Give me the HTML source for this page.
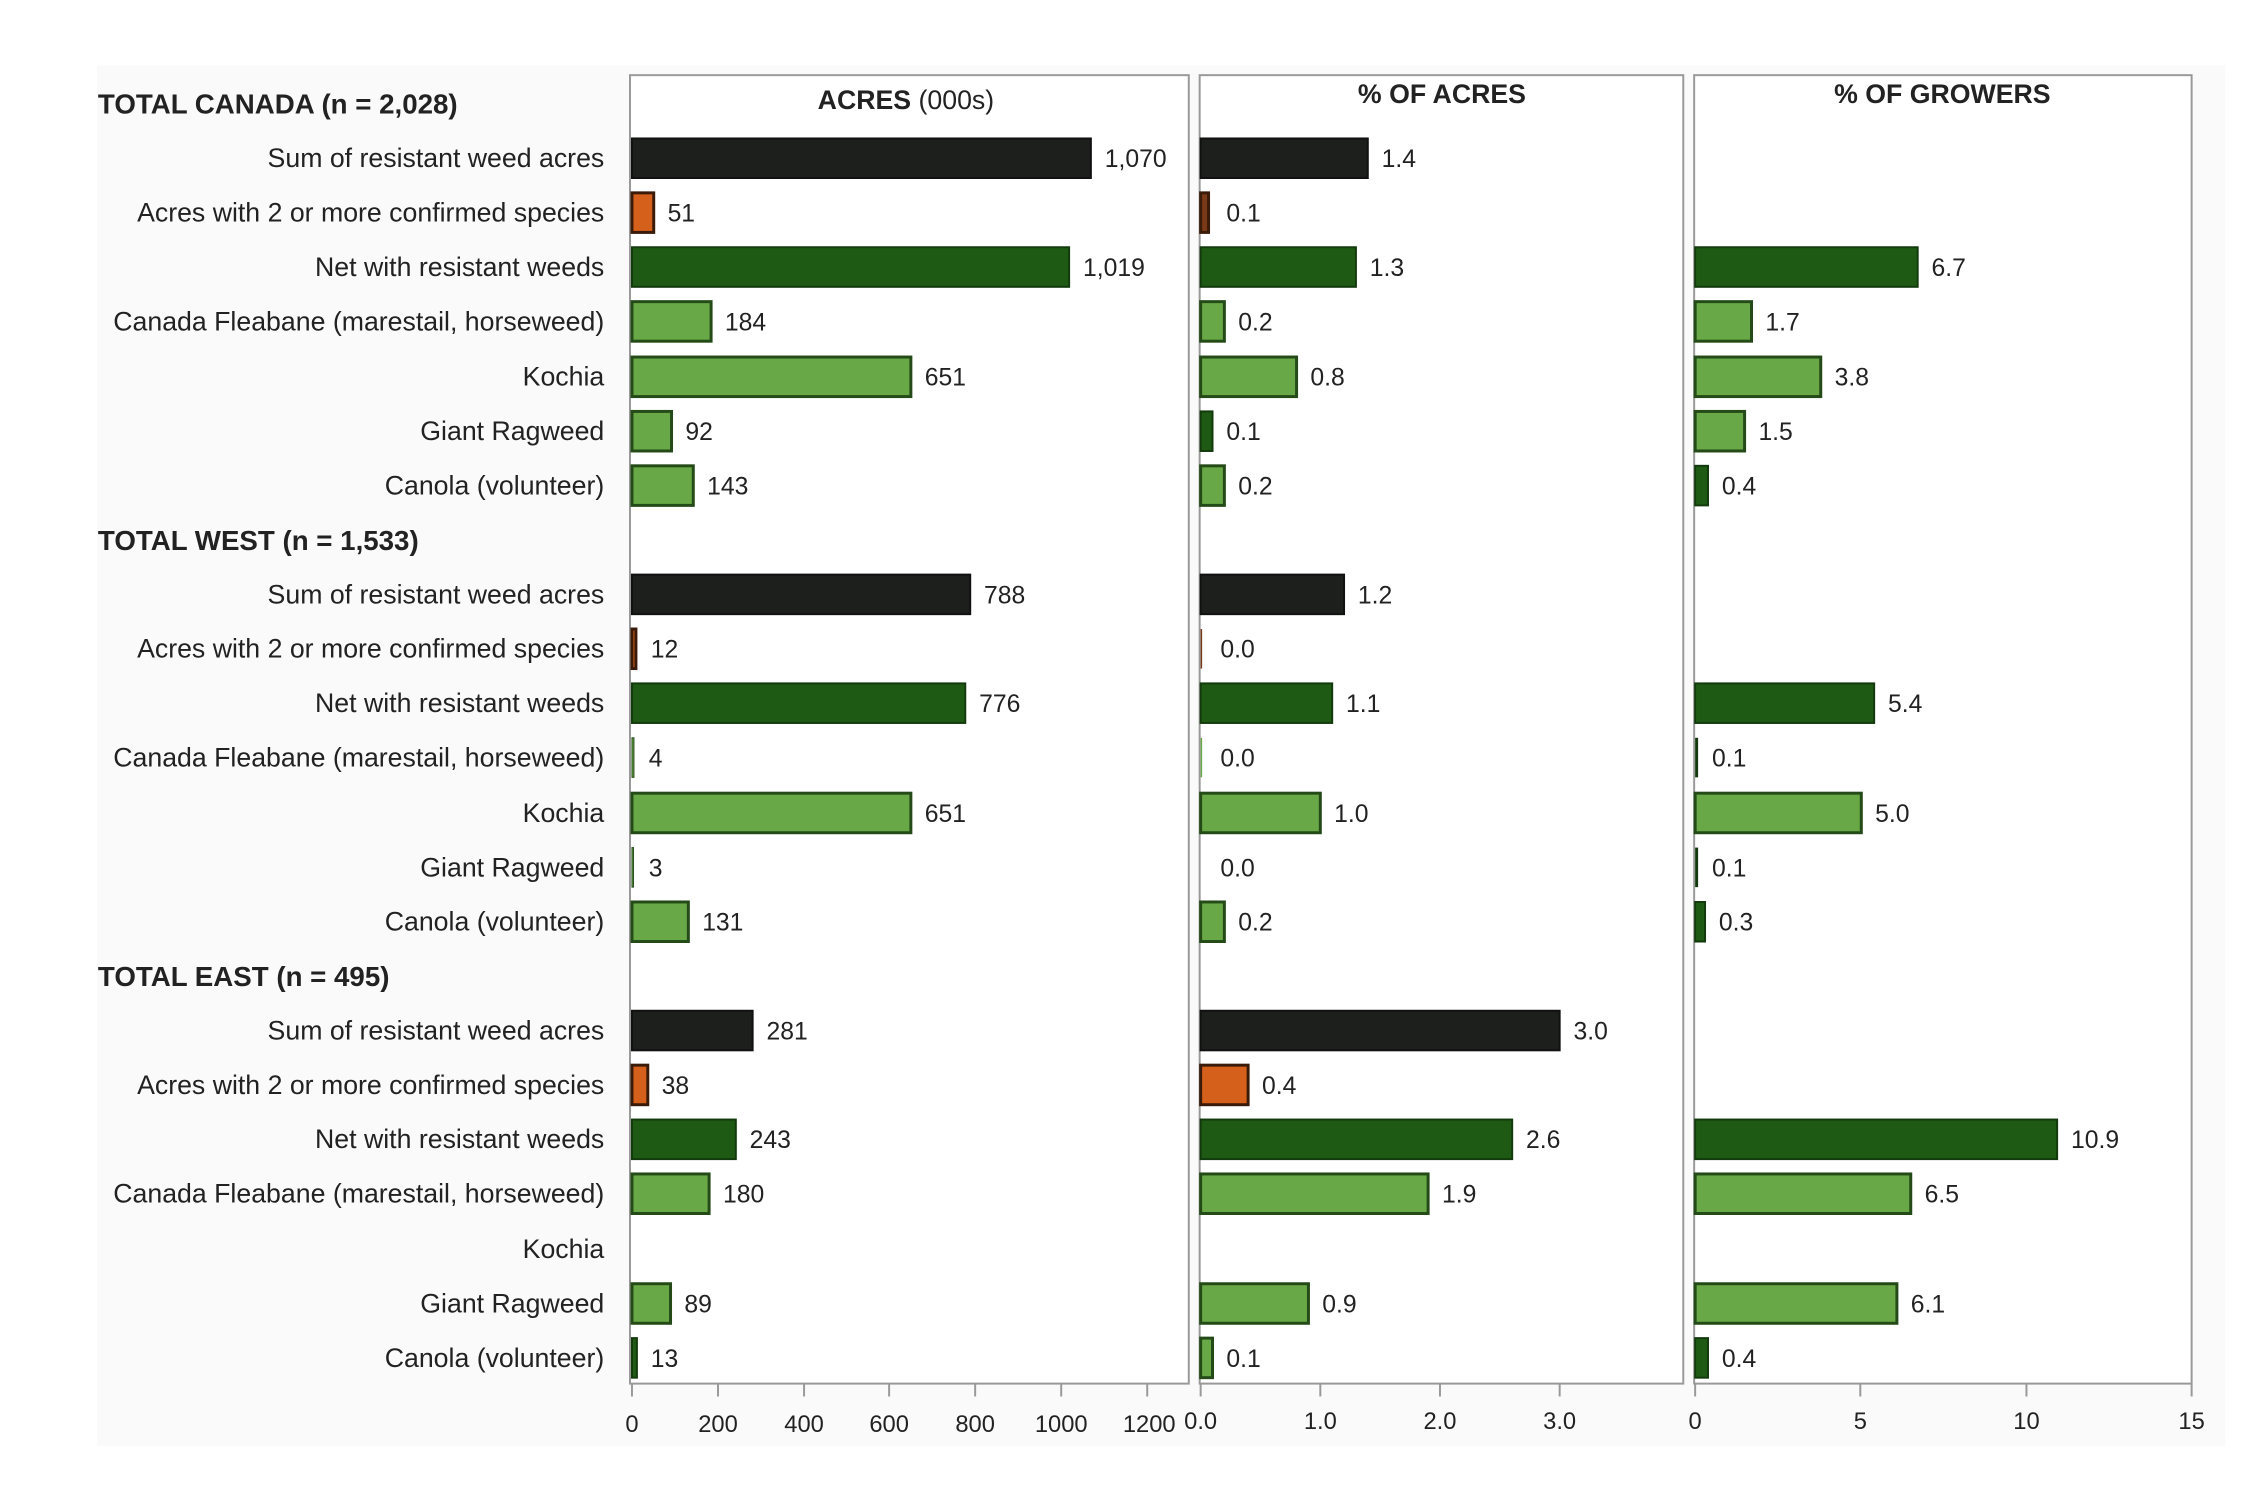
<!DOCTYPE html>
<html><head><meta charset="utf-8"><style>
html,body{margin:0;padding:0;background:#fff;}
svg{display:block;}
text{font-family:"Liberation Sans",sans-serif;fill:#222;}
.l{font-size:27px;text-anchor:end;}
.v{font-size:25px;}
.h{font-size:28px;font-weight:bold;}
.t{font-size:24px;text-anchor:middle;}
.bk{fill:#1c1f1b;stroke:#111;stroke-width:2;}
.or{fill:#d4601c;stroke:#3a1a08;stroke-width:3;}
.dg{fill:#1f5a15;stroke:#123a0c;stroke-width:2;}
.lg{fill:#68a846;stroke:#234a17;stroke-width:3;}
</style></head><body>
<svg width="2266" height="1501" viewBox="0 0 2266 1501" xmlns="http://www.w3.org/2000/svg">
<g transform="scale(0.989)">
<rect x="98" y="66" width="2152" height="1396" fill="#fafafa"/>
<rect x="637" y="76" width="565" height="1323" fill="#fff" stroke="#999" stroke-width="2"/>
<rect x="1213" y="76" width="489" height="1323" fill="#fff" stroke="#999" stroke-width="2"/>
<rect x="1713" y="76" width="503" height="1323" fill="#fff" stroke="#999" stroke-width="2"/>
<text x="916" y="110" class="t" style="font-size:27px"><tspan font-weight="bold">ACRES</tspan> (000s)</text>
<text x="1458" y="104" class="t" style="font-size:27px;font-weight:bold">% OF ACRES</text>
<text x="1964" y="104" class="t" style="font-size:27px;font-weight:bold">% OF GROWERS</text>

<text x="99" y="115" class="h">TOTAL CANADA (n = 2,028)</text>
<text x="99" y="556" class="h">TOTAL WEST (n = 1,533)</text>
<text x="99" y="997" class="h">TOTAL EAST (n = 495)</text>

<g>
<text x="611" y="169" class="l">Sum of resistant weed acres</text>
<text x="611" y="224" class="l">Acres with 2 or more confirmed species</text>
<text x="611" y="279" class="l">Net with resistant weeds</text>
<text x="611" y="334" class="l">Canada Fleabane (marestail, horseweed)</text>
<text x="611" y="390" class="l">Kochia</text>
<text x="611" y="445" class="l">Giant Ragweed</text>
<text x="611" y="500" class="l">Canola (volunteer)</text>
<text x="611" y="610" class="l">Sum of resistant weed acres</text>
<text x="611" y="665" class="l">Acres with 2 or more confirmed species</text>
<text x="611" y="720" class="l">Net with resistant weeds</text>
<text x="611" y="775" class="l">Canada Fleabane (marestail, horseweed)</text>
<text x="611" y="831" class="l">Kochia</text>
<text x="611" y="886" class="l">Giant Ragweed</text>
<text x="611" y="941" class="l">Canola (volunteer)</text>
<text x="611" y="1051" class="l">Sum of resistant weed acres</text>
<text x="611" y="1106" class="l">Acres with 2 or more confirmed species</text>
<text x="611" y="1161" class="l">Net with resistant weeds</text>
<text x="611" y="1216" class="l">Canada Fleabane (marestail, horseweed)</text>
<text x="611" y="1272" class="l">Kochia</text>
<text x="611" y="1327" class="l">Giant Ragweed</text>
<text x="611" y="1382" class="l">Canola (volunteer)</text>
</g>

<rect x="639" y="140" width="464" height="40" class="bk"/><text x="1117" y="169" class="v">1,070</text>
<rect x="639" y="195" width="22" height="40" class="or"/><text x="675" y="224" class="v">51</text>
<rect x="639" y="250" width="442" height="40" class="dg"/><text x="1095" y="279" class="v">1,019</text>
<rect x="639" y="305" width="80" height="40" class="lg"/><text x="733" y="334" class="v">184</text>
<rect x="639" y="361" width="282" height="40" class="lg"/><text x="935" y="390" class="v">651</text>
<rect x="639" y="416" width="40" height="40" class="lg"/><text x="693" y="445" class="v">92</text>
<rect x="639" y="471" width="62" height="40" class="lg"/><text x="715" y="500" class="v">143</text>

<rect x="639" y="581" width="342" height="40" class="bk"/><text x="995" y="610" class="v">788</text>
<rect x="639" y="636" width="4" height="40" class="or"/><text x="658" y="665" class="v">12</text>
<rect x="639" y="691" width="337" height="40" class="dg"/><text x="990" y="720" class="v">776</text>
<rect x="639" y="746" width="2" height="40" fill="#68a846" stroke="#234a17"/><text x="656" y="775" class="v">4</text>
<rect x="639" y="802" width="282" height="40" class="lg"/><text x="935" y="831" class="v">651</text>
<rect x="639" y="857" width="1.5" height="40" fill="#68a846" stroke="#234a17"/><text x="656" y="886" class="v">3</text>
<rect x="639" y="912" width="57" height="40" class="lg"/><text x="710" y="941" class="v">131</text>

<rect x="639" y="1022" width="122" height="40" class="bk"/><text x="775" y="1051" class="v">281</text>
<rect x="639" y="1077" width="16" height="40" class="or"/><text x="669" y="1106" class="v">38</text>
<rect x="639" y="1132" width="105" height="40" class="dg"/><text x="758" y="1161" class="v">243</text>
<rect x="639" y="1187" width="78" height="40" class="lg"/><text x="731" y="1216" class="v">180</text>
<rect x="639" y="1298" width="39" height="40" class="lg"/><text x="692" y="1327" class="v">89</text>
<rect x="639" y="1353" width="5" height="40" class="dg"/><text x="658" y="1382" class="v">13</text>

<rect x="1214" y="140" width="169" height="40" class="bk"/><text x="1397" y="169" class="v">1.4</text>
<rect x="1214" y="195" width="8" height="40" class="or" style="fill:#7a3a18"/><text x="1240" y="224" class="v">0.1</text>
<rect x="1214" y="250" width="157" height="40" class="dg"/><text x="1385" y="279" class="v">1.3</text>
<rect x="1214" y="305" width="24" height="40" class="lg"/><text x="1252" y="334" class="v">0.2</text>
<rect x="1214" y="361" width="97" height="40" class="lg"/><text x="1325" y="390" class="v">0.8</text>
<rect x="1214" y="416" width="12" height="40" class="dg"/><text x="1240" y="445" class="v">0.1</text>
<rect x="1214" y="471" width="24" height="40" class="lg"/><text x="1252" y="500" class="v">0.2</text>

<rect x="1214" y="581" width="145" height="40" class="bk"/><text x="1373" y="610" class="v">1.2</text>
<rect x="1214" y="636" width="1.5" height="40" fill="#7a3a18"/><text x="1234" y="665" class="v">0.0</text>
<rect x="1214" y="691" width="133" height="40" class="dg"/><text x="1361" y="720" class="v">1.1</text>
<rect x="1214" y="746" width="1.5" height="40" fill="#68a846"/><text x="1234" y="775" class="v">0.0</text>
<rect x="1214" y="802" width="121" height="40" class="lg"/><text x="1349" y="831" class="v">1.0</text>
<text x="1234" y="886" class="v">0.0</text>
<rect x="1214" y="912" width="24" height="40" class="lg"/><text x="1252" y="941" class="v">0.2</text>

<rect x="1214" y="1022" width="363" height="40" class="bk"/><text x="1591" y="1051" class="v">3.0</text>
<rect x="1214" y="1077" width="48" height="40" class="or"/><text x="1276" y="1106" class="v">0.4</text>
<rect x="1214" y="1132" width="315" height="40" class="dg"/><text x="1543" y="1161" class="v">2.6</text>
<rect x="1214" y="1187" width="230" height="40" class="lg"/><text x="1458" y="1216" class="v">1.9</text>
<rect x="1214" y="1298" width="109" height="40" class="lg"/><text x="1337" y="1327" class="v">0.9</text>
<rect x="1214" y="1353" width="12" height="40" class="lg"/><text x="1240" y="1382" class="v">0.1</text>

<rect x="1714" y="250" width="225" height="40" class="dg"/><text x="1953" y="279" class="v">6.7</text>
<rect x="1714" y="305" width="57" height="40" class="lg"/><text x="1785" y="334" class="v">1.7</text>
<rect x="1714" y="361" width="127" height="40" class="lg"/><text x="1855" y="390" class="v">3.8</text>
<rect x="1714" y="416" width="50" height="40" class="lg"/><text x="1778" y="445" class="v">1.5</text>
<rect x="1714" y="471" width="13" height="40" class="dg"/><text x="1741" y="500" class="v">0.4</text>

<rect x="1714" y="691" width="181" height="40" class="dg"/><text x="1909" y="720" class="v">5.4</text>
<rect x="1714" y="746" width="3" height="40" fill="#123a0c"/><text x="1731" y="775" class="v">0.1</text>
<rect x="1714" y="802" width="168" height="40" class="lg"/><text x="1896" y="831" class="v">5.0</text>
<rect x="1714" y="857" width="3" height="40" fill="#123a0c"/><text x="1731" y="886" class="v">0.1</text>
<rect x="1714" y="912" width="10" height="40" class="dg"/><text x="1738" y="941" class="v">0.3</text>

<rect x="1714" y="1132" width="366" height="40" class="dg"/><text x="2094" y="1161" class="v">10.9</text>
<rect x="1714" y="1187" width="218" height="40" class="lg"/><text x="1946" y="1216" class="v">6.5</text>
<rect x="1714" y="1298" width="204" height="40" class="lg"/><text x="1932" y="1327" class="v">6.1</text>
<rect x="1714" y="1353" width="13" height="40" class="dg"/><text x="1741" y="1382" class="v">0.4</text>

<g stroke="#999" stroke-width="2">
<line x1="639" y1="1399" x2="639" y2="1412"/><line x1="726" y1="1399" x2="726" y2="1412"/><line x1="813" y1="1399" x2="813" y2="1412"/><line x1="899" y1="1399" x2="899" y2="1412"/><line x1="986" y1="1399" x2="986" y2="1412"/><line x1="1073" y1="1399" x2="1073" y2="1412"/><line x1="1160" y1="1399" x2="1160" y2="1412"/>
<line x1="1214" y1="1399" x2="1214" y2="1412"/><line x1="1335" y1="1399" x2="1335" y2="1412"/><line x1="1456" y1="1399" x2="1456" y2="1412"/><line x1="1577" y1="1399" x2="1577" y2="1412"/>
<line x1="1714" y1="1399" x2="1714" y2="1412"/><line x1="1881" y1="1399" x2="1881" y2="1412"/><line x1="2049" y1="1399" x2="2049" y2="1412"/><line x1="2216" y1="1399" x2="2216" y2="1412"/>
</g>
<g>
<text x="639" y="1448" class="t">0</text><text x="726" y="1448" class="t">200</text><text x="813" y="1448" class="t">400</text><text x="899" y="1448" class="t">600</text><text x="986" y="1448" class="t">800</text><text x="1073" y="1448" class="t">1000</text><text x="1162" y="1448" class="t">1200</text>
<text x="1214" y="1445" class="t">0.0</text><text x="1335" y="1445" class="t">1.0</text><text x="1456" y="1445" class="t">2.0</text><text x="1577" y="1445" class="t">3.0</text>
<text x="1714" y="1445" class="t">0</text><text x="1881" y="1445" class="t">5</text><text x="2049" y="1445" class="t">10</text><text x="2216" y="1445" class="t">15</text>
</g>
</g>
</svg>
</body></html>
